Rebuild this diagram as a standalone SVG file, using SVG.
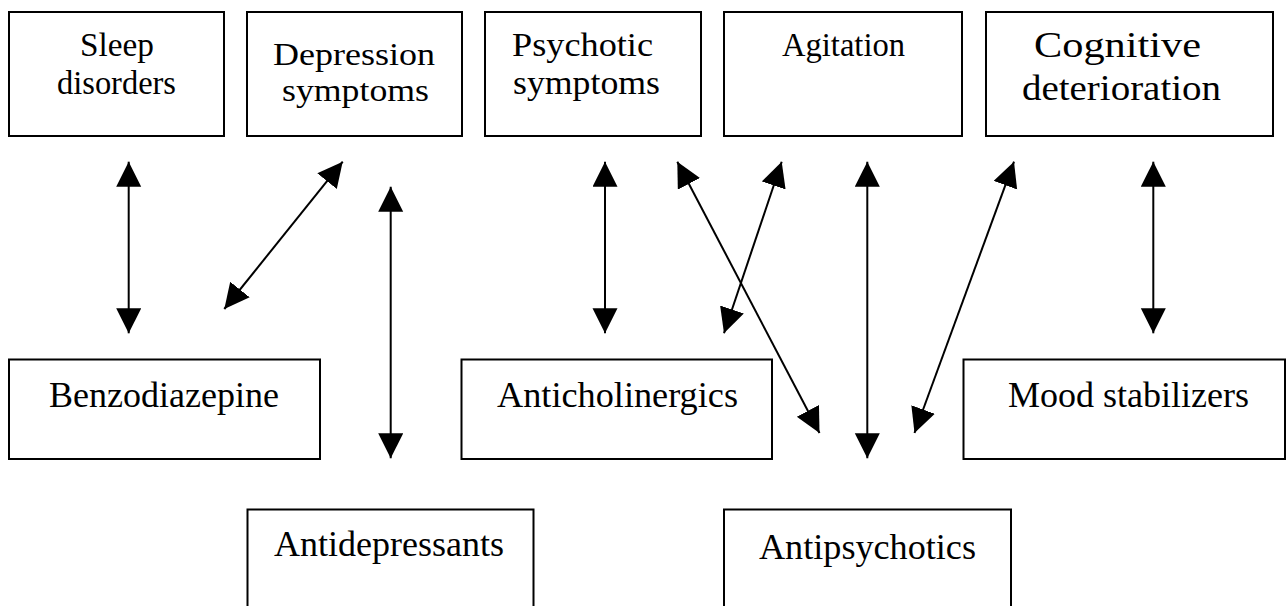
<svg xmlns="http://www.w3.org/2000/svg" width="1287" height="606" viewBox="0 0 1287 606">
<style>
.box{fill:#fff;stroke:#000;stroke-width:2}
.t{font-family:"Liberation Serif","Times New Roman",serif;fill:#000}
.c{stroke:#000;stroke-width:2;fill:none;marker-start:url(#ah);marker-end:url(#ah)}
</style>
<defs>
<marker id="ah" markerUnits="userSpaceOnUse" markerWidth="26" markerHeight="26" refX="25" refY="12.5" orient="auto-start-reverse" viewBox="0 0 26 26">
<path d="M0,0 L25,12.5 L0,25 z" fill="#000"/>
</marker>
</defs>
<rect width="1287" height="606" fill="#fff"/>
<g id="sleep">
<rect class="box" x="9" y="12" width="215" height="124"/>
<text class="t" font-size="34" x="80" y="56" textLength="74" lengthAdjust="spacingAndGlyphs">Sleep</text>
<text class="t" font-size="34" x="57" y="94" textLength="119" lengthAdjust="spacingAndGlyphs">disorders</text>
</g>
<g id="depression">
<rect class="box" x="247" y="12" width="215" height="124"/>
<text class="t" font-size="32" x="273" y="65" textLength="162" lengthAdjust="spacingAndGlyphs">Depression</text>
<text class="t" font-size="32" x="282" y="101" textLength="147" lengthAdjust="spacingAndGlyphs">symptoms</text>
</g>
<g id="psychotic">
<rect class="box" x="485" y="12" width="216" height="124"/>
<text class="t" font-size="34" x="512" y="56" textLength="141" lengthAdjust="spacingAndGlyphs">Psychotic</text>
<text class="t" font-size="34" x="513" y="94" textLength="147" lengthAdjust="spacingAndGlyphs">symptoms</text>
</g>
<g id="agitation">
<rect class="box" x="724" y="12" width="238" height="124"/>
<text class="t" font-size="34" x="782" y="56" textLength="123" lengthAdjust="spacingAndGlyphs">Agitation</text>
</g>
<g id="cognitive">
<rect class="box" x="986" y="12" width="287" height="124"/>
<text class="t" font-size="35" x="1034" y="57" textLength="167" lengthAdjust="spacingAndGlyphs">Cognitive</text>
<text class="t" font-size="35" x="1022" y="100" textLength="199" lengthAdjust="spacingAndGlyphs">deterioration</text>
</g>
<g id="benzodiazepine">
<rect class="box" x="9" y="359.5" width="311" height="99.5"/>
<text class="t" font-size="36" x="49" y="407" textLength="230" lengthAdjust="spacingAndGlyphs">Benzodiazepine</text>
</g>
<g id="anticholinergics">
<rect class="box" x="461.5" y="359.5" width="310.5" height="99.5"/>
<text class="t" font-size="36" x="497" y="407" textLength="241" lengthAdjust="spacingAndGlyphs">Anticholinergics</text>
</g>
<g id="mood">
<rect class="box" x="963.5" y="359.5" width="321.5" height="99.5"/>
<text class="t" font-size="36" x="1008" y="407" textLength="241" lengthAdjust="spacingAndGlyphs">Mood stabilizers</text>
</g>
<g id="antidepressants">
<rect class="box" x="247.5" y="509.5" width="286" height="120"/>
<text class="t" font-size="36" x="274" y="556" textLength="230" lengthAdjust="spacingAndGlyphs">Antidepressants</text>
</g>
<g id="antipsychotics">
<rect class="box" x="724" y="509.5" width="287" height="120"/>
<text class="t" font-size="36" x="759" y="559" textLength="217" lengthAdjust="spacingAndGlyphs">Antipsychotics</text>
</g>
<g id="connectors">
<line class="c" x1="128.7" y1="161.7" x2="128.7" y2="333.3"/>
<line class="c" x1="342.7" y1="161.7" x2="224.3" y2="309"/>
<line class="c" x1="390.7" y1="186.7" x2="390.7" y2="458.3"/>
<line class="c" x1="605" y1="161.7" x2="605" y2="333.3"/>
<line class="c" x1="677.3" y1="161.7" x2="819.5" y2="433"/>
<line class="c" x1="781.7" y1="161.7" x2="724" y2="333.3"/>
<line class="c" x1="867.3" y1="161.7" x2="867.3" y2="458.3"/>
<line class="c" x1="1014" y1="161.7" x2="914.5" y2="433"/>
<line class="c" x1="1153.3" y1="161.7" x2="1153.3" y2="333.3"/>
</g>
</svg>
